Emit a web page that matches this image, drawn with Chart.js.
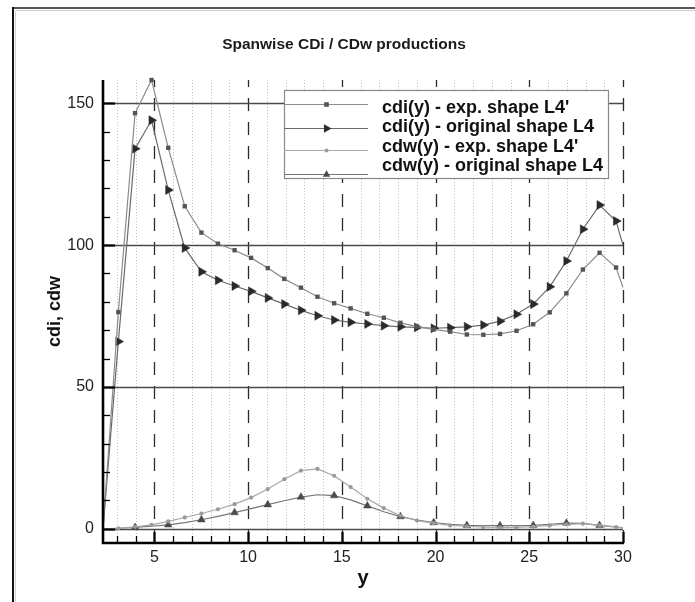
<!DOCTYPE html>
<html>
<head>
<meta charset="utf-8">
<script src="https://cdn.jsdelivr.net/npm/chart.js@4.4.0/dist/chart.umd.min.js"></script>
<style>
  html, body { margin: 0; padding: 0; background: #fff; }
  #wrap { width: 695px; height: 602px; }
</style>
</head>
<body>
<div id="wrap"><canvas id="c" width="695" height="602"></canvas></div>
<script>
// ---- data ----
const spanY = [2.26, 3.08, 3.97, 4.85, 5.74, 6.62, 7.51, 8.39, 9.28, 10.16, 11.05, 11.93, 12.82, 13.70, 14.59, 15.47, 16.36, 17.24, 18.13, 19.01, 19.90, 20.78, 21.67, 22.55, 23.44, 24.32, 25.21, 26.09, 26.98, 27.86, 28.75, 29.63, 30.00];
const cdiExp  = [0, 76.4, 146.5, 158.2, 134.3, 113.7, 104.4, 100.5, 98.2, 95.5, 91.9, 88.1, 85.0, 81.8, 79.5, 77.7, 75.8, 74.4, 72.6, 71.3, 70.3, 69.5, 68.5, 68.4, 68.7, 69.8, 72.1, 76.3, 83.0, 91.4, 97.3, 92.1, 85.1];
const cdiOrig = [0, 66.0, 134.0, 144.0, 119.4, 99.0, 90.6, 87.6, 85.6, 83.7, 81.4, 79.2, 77.0, 75.1, 73.6, 72.8, 72.2, 71.6, 71.2, 71.0, 70.7, 70.9, 71.2, 71.8, 73.2, 75.6, 79.2, 85.3, 94.4, 105.6, 114.1, 108.5, 100.0];
const cdwExp  = [0, 0.2, 0.7, 1.4, 2.6, 4.0, 5.4, 6.9, 8.7, 11.0, 14.0, 17.5, 20.5, 21.1, 18.7, 14.7, 10.6, 7.3, 4.6, 2.9, 2.0, 1.2, 0.9, 0.6, 0.5, 0.5, 0.8, 1.2, 1.6, 1.8, 1.2, 0.6, 0.3];
const cdwOrig = [0, 0.2, 0.5, 0.9, 1.4, 2.2, 3.2, 4.4, 5.7, 7.1, 8.5, 9.9, 11.2, 12.0, 11.7, 10.2, 8.1, 6.0, 4.3, 3.1, 2.2, 1.6, 1.2, 1.1, 1.1, 1.1, 1.2, 1.6, 2.0, 1.9, 1.2, 0.7, 0.3];
const seriesLabels = ["cdi(y) - exp. shape L4'", "cdi(y) - original shape L4", "cdw(y) - exp. shape L4'", "cdw(y) - original shape L4"];
const xTicks = [5, 10, 15, 20, 25, 30];
const yTicks = [0, 50, 100, 150];
const titleText = "Spanwise CDi / CDw productions";
const xTitle = "y";
const yTitle = "cdi, cdw";

const FONT = "'Liberation Sans', Arial, Helvetica, sans-serif";
const toPts = arr => arr.map((v, i) => ({ x: spanY[i], y: v }));
const lastIdx = spanY.length - 1;

const decor = {
  id: 'decor',
  beforeDraw(chart) {
    const ctx = chart.ctx;
    ctx.save();
    ctx.fillStyle = '#fff';
    ctx.fillRect(0, 0, chart.width, chart.height);
    // frame
    ctx.strokeStyle = '#d0d0d0'; ctx.lineWidth = 1;
    ctx.beginPath(); ctx.moveTo(15.5, 602); ctx.lineTo(15.5, 10.5); ctx.lineTo(695, 10.5); ctx.stroke();
    ctx.fillStyle = '#555'; ctx.fillRect(12, 7, 683, 2);
    ctx.fillStyle = '#111'; ctx.fillRect(12, 7, 2, 595);
    // title
    ctx.fillStyle = '#1a1a1a';
    ctx.font = 'bold 15.5px ' + FONT;
    ctx.textAlign = 'center'; ctx.textBaseline = 'middle';
    ctx.fillText(titleText, 344, 45);
    ctx.restore();
  },
  beforeDatasetsDraw(chart) {
    const ctx = chart.ctx, xs = chart.scales.x, ys = chart.scales.y, a = chart.chartArea;
    ctx.save();
    // minor dotted verticals
    ctx.strokeStyle = '#c0c0c0'; ctx.lineWidth = 1; ctx.setLineDash([1, 2]);
    for (let v = 3; v < 30; v++) {
      if (v % 5 === 0) continue;
      const px = Math.round(xs.getPixelForValue(v)) + 0.5;
      ctx.beginPath(); ctx.moveTo(px, a.bottom); ctx.lineTo(px, a.top); ctx.stroke();
    }
    // major dashed verticals
    ctx.strokeStyle = '#2a2a2a'; ctx.lineWidth = 1.3; ctx.setLineDash([13, 11]);
    xTicks.forEach(v => {
      const px = Math.round(xs.getPixelForValue(v)) + 0.5;
      ctx.beginPath(); ctx.moveTo(px, a.bottom); ctx.lineTo(px, a.top); ctx.stroke();
    });
    // horizontal solid
    ctx.setLineDash([]); ctx.strokeStyle = '#4a4a4a'; ctx.lineWidth = 1.3;
    yTicks.forEach(v => {
      const py = Math.round(ys.getPixelForValue(v)) + 0.5;
      ctx.beginPath(); ctx.moveTo(a.left, py); ctx.lineTo(a.right, py); ctx.stroke();
    });
    ctx.restore();
  },
  afterDatasetsDraw(chart) {
    const ctx = chart.ctx, xs = chart.scales.x, ys = chart.scales.y, a = chart.chartArea;
    ctx.save();
    ctx.strokeStyle = '#000';
    // ticks (inside)
    ctx.lineWidth = 1.3;
    for (let v = 10; v < 158; v += 10) {
      if (v % 50 === 0) continue;
      const py = Math.round(ys.getPixelForValue(v)) + 0.5;
      ctx.beginPath(); ctx.moveTo(a.left, py); ctx.lineTo(a.left + 7, py); ctx.stroke();
    }
    for (let v = 3; v < 30; v++) {
      if (v % 5 === 0) continue;
      const px = Math.round(xs.getPixelForValue(v)) + 0.5;
      ctx.beginPath(); ctx.moveTo(px, a.bottom); ctx.lineTo(px, a.bottom - 7); ctx.stroke();
    }
    ctx.lineWidth = 2.2;
    yTicks.forEach(v => {
      const py = Math.round(ys.getPixelForValue(v)) + 0.5;
      ctx.beginPath(); ctx.moveTo(a.left, py); ctx.lineTo(a.left + 12, py); ctx.stroke();
    });
    xTicks.forEach(v => {
      const px = Math.round(xs.getPixelForValue(v)) + 0.5;
      ctx.beginPath(); ctx.moveTo(px, a.bottom); ctx.lineTo(px, a.bottom - 11); ctx.stroke();
    });
    // axis lines
    ctx.lineWidth = 2.6;
    ctx.beginPath(); ctx.moveTo(a.left, a.top); ctx.lineTo(a.left, a.bottom); ctx.lineTo(a.right + 1, a.bottom); ctx.stroke();
    ctx.restore();
  },
  afterDraw(chart) {
    const ctx = chart.ctx;
    const box = { l: 284, t: 90, r: 608, b: 178 };
    ctx.save();
    ctx.fillStyle = '#fff';
    ctx.fillRect(box.l, box.t, box.r - box.l, box.b - box.t);
    ctx.strokeStyle = '#8a8a8a'; ctx.lineWidth = 1.2;
    ctx.strokeRect(box.l + 0.5, box.t + 0.5, box.r - box.l, box.b - box.t);
    const lineY = [104, 128, 150, 174];
    const textY = [108, 127.5, 147, 166.5];
    const mx = 326.5;
    chart.data.datasets.forEach((ds, i) => {
      ctx.strokeStyle = ds.borderColor; ctx.lineWidth = 1.2;
      ctx.beginPath(); ctx.moveTo(box.l, lineY[i] + 0.5); ctx.lineTo(368, lineY[i] + 0.5); ctx.stroke();
      ctx.fillStyle = ds.pointBackgroundColor;
      const y = lineY[i] + 0.5;
      ctx.beginPath();
      if (i === 0) { ctx.rect(mx - 2.3, y - 2.3, 4.6, 4.6); }
      else if (i === 1) { ctx.moveTo(mx + 5, y); ctx.lineTo(mx - 2.5, y - 4.3); ctx.lineTo(mx - 2.5, y + 4.3); ctx.closePath(); }
      else if (i === 2) { ctx.arc(mx, y, 2, 0, Math.PI * 2); }
      else { ctx.moveTo(mx, y - 4.3); ctx.lineTo(mx + 3.7, y + 2.2); ctx.lineTo(mx - 3.7, y + 2.2); ctx.closePath(); }
      ctx.fill();
      ctx.fillStyle = '#111';
      ctx.font = 'bold 18px ' + FONT;
      ctx.textAlign = 'left'; ctx.textBaseline = 'middle';
      ctx.fillText(ds.label, 382, textY[i]);
    });
    ctx.restore();
  }
};

const markIf = (cond, r) => (c) => cond(c.dataIndex) ? r : 0;
const inner = i => i > 0 && i < lastIdx;

new Chart(document.getElementById('c'), {
  type: 'line',
  data: {
    datasets: [
      { label: seriesLabels[0], data: toPts(cdiExp), borderColor: '#8c8c8c', borderWidth: 1.2,
        pointStyle: 'rect', pointRadius: markIf(inner, 3.1), pointBackgroundColor: '#555', pointBorderColor: '#555', pointBorderWidth: 0 },
      { label: seriesLabels[1], data: toPts(cdiOrig), borderColor: '#6a6a6a', borderWidth: 1.2,
        pointStyle: 'triangle', pointRotation: 90, pointRadius: markIf(inner, 5.2), pointBackgroundColor: '#2a2a2a', pointBorderColor: '#2a2a2a', pointBorderWidth: 0.5 },
      { label: seriesLabels[2], data: toPts(cdwExp), borderColor: '#a8a8a8', borderWidth: 1.2,
        pointStyle: 'circle', pointRadius: markIf(inner, 2.1), pointBackgroundColor: '#9a9a9a', pointBorderColor: '#9a9a9a', pointBorderWidth: 0 },
      { label: seriesLabels[3], data: toPts(cdwOrig), borderColor: '#777', borderWidth: 1.2,
        pointStyle: 'triangle', pointRadius: markIf(i => i >= 2 && i <= 30 && i % 2 === 0, 4.4), pointBackgroundColor: '#4a4a4a', pointBorderColor: '#4a4a4a', pointBorderWidth: 0.5 }
    ]
  },
  options: {
    responsive: false,
    animation: false,
    devicePixelRatio: 1,
    events: [],
    clip: false,
    layout: { padding: { top: 80, right: 72, left: 0, bottom: 0 } },
    elements: { line: { tension: 0, fill: false } },
    plugins: { legend: { display: false }, title: { display: false }, tooltip: { enabled: false } },
    scales: {
      x: {
        type: 'linear', min: 2.26, max: 30,
        grid: { display: false, drawTicks: false }, border: { display: false },
        afterFit: s => { s.height = 59; },
        afterBuildTicks: s => { s.ticks = xTicks.map(v => ({ value: v })); },
        ticks: { autoSkip: false, maxRotation: 0, padding: 5, color: '#222', font: { family: FONT, size: 16 } },
        title: { display: true, text: xTitle, color: '#111', font: { family: FONT, size: 20, weight: 'bold' }, padding: { top: 0, bottom: 12 } }
      },
      y: {
        type: 'linear', min: -5, max: 158.2,
        grid: { display: false, drawTicks: false }, border: { display: false },
        afterFit: s => { s.width = 103; },
        afterBuildTicks: s => { s.ticks = yTicks.map(v => ({ value: v })); },
        ticks: { autoSkip: false, padding: 9, color: '#222', font: { family: FONT, size: 16 } },
        title: { display: true, text: yTitle, color: '#111', font: { family: FONT, size: 18, weight: 'bold' }, padding: { top: 44, bottom: 0 } }
      }
    }
  },
  plugins: [decor]
});
</script>
</body>
</html>
